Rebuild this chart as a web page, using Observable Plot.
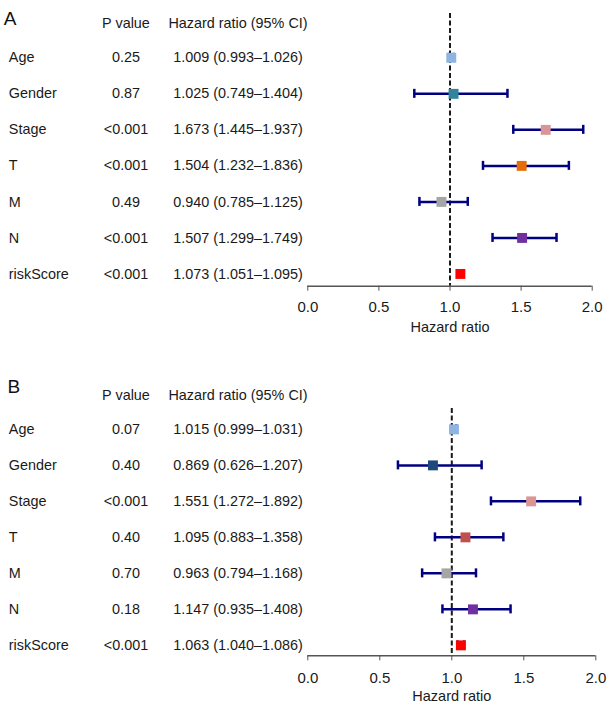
<!DOCTYPE html>
<html>
<head>
<meta charset="utf-8">
<script src="https://cdn.jsdelivr.net/npm/d3@7"></script>
<script src="https://cdn.jsdelivr.net/npm/@observablehq/plot@0.6"></script>
<style>
  html, body { margin: 0; padding: 0; background: #fff; }
  svg { display: block; }
</style>
</head>
<body>
<div id="chart"></div>
<script>
// ---- data ----
const labels = ["Age", "Gender", "Stage", "T", "M", "N", "riskScore"];
const xTicks = [0, 0.5, 1, 1.5, 2];

const pA = ["0.25", "0.87", "<0.001", "<0.001", "0.49", "<0.001", "<0.001"];
const hrA = [1.009, 1.025, 1.673, 1.504, 0.940, 1.507, 1.073];
const loA = [0.993, 0.749, 1.445, 1.232, 0.785, 1.299, 1.051];
const hiA = [1.026, 1.404, 1.937, 1.836, 1.125, 1.749, 1.095];
const colorsA = ["#8db4e2", "#31849b", "#da9694", "#e46c0a", "#a5a5a5", "#7030a0", "#ff0000"];

const pB = ["0.07", "0.40", "<0.001", "0.40", "0.70", "0.18", "<0.001"];
const hrB = [1.015, 0.869, 1.551, 1.095, 0.963, 1.147, 1.063];
const loB = [0.999, 0.626, 1.272, 0.883, 0.794, 0.935, 1.040];
const hiB = [1.031, 1.207, 1.892, 1.358, 1.168, 1.408, 1.086];
const colorsB = ["#8db4e2", "#1f497d", "#da9694", "#c0504d", "#a5a5a5", "#7030a0", "#ff0000"];

const headers = {p: "P value", hr: "Hazard ratio (95% CI)"};
const axisLabel = "Hazard ratio";

// ---- layout ----
const FONT = "'Liberation Sans', Arial, Helvetica, sans-serif";
const TXT = "#1a1a1a";
const ML = 307.3;
const colDx = {label: 8.3 - ML, p: 125.5 - ML, hr: 237.5 - ML};

function panel(cfg) {
  const f3 = d3.format(".3f");
  const rows = labels.map((l, k) => ({
    label: l, i: k + 1, p: cfg.p[k], hr: cfg.hr[k], lo: cfg.lo[k], hi: cfg.hi[k],
    color: cfg.colors[k],
    text: `${f3(cfg.hr[k])} (${f3(cfg.lo[k])}–${f3(cfg.hi[k])})`
  }));
  const cap = 0.125;
  return Plot.plot({
    width: 612,
    height: cfg.height,
    marginLeft: ML,
    marginRight: cfg.marginRight,
    marginTop: cfg.marginTop,
    marginBottom: cfg.marginBottom,
    style: {fontFamily: FONT, fontSize: "14.4px", color: TXT, background: "#fff", overflow: "visible"},
    x: {domain: [xTicks[0], xTicks[xTicks.length - 1]], axis: null},
    y: {type: "linear", domain: [cfg.yBottom, cfg.yTop], axis: null},
    color: {type: "identity"},
    marks: [
      // reference line at HR = 1
      Plot.ruleX([1], {stroke: "#1a1a1a", strokeWidth: 2, strokeDasharray: "5,2.5"}),
      // axis line
      Plot.ruleY([cfg.yBottom], {x1: xTicks[0], x2: xTicks[xTicks.length - 1], stroke: "#555", strokeWidth: 1.4}),
      Plot.axisX({ticks: xTicks, tickFormat: d3.format(".1f"), tickSize: 5, tickPadding: cfg.tickPadding,
                  stroke: "#555", fill: TXT, fontSize: 15, label: null}),
      Plot.text([axisLabel], {x: 1, frameAnchor: "bottom", lineAnchor: "middle", dy: cfg.labelDy, text: d => d,
                              fontSize: 14.5, fill: TXT}),
      // confidence intervals
      Plot.ruleY(rows, {y: "i", x1: "lo", x2: "hi", stroke: "#000080", strokeWidth: 2.5}),
      Plot.ruleX(rows, {x: "lo", y1: d => d.i - cap, y2: d => d.i + cap, stroke: "#000080", strokeWidth: 2.5}),
      Plot.ruleX(rows, {x: "hi", y1: d => d.i - cap, y2: d => d.i + cap, stroke: "#000080", strokeWidth: 2.5}),
      // point estimates
      Plot.dot(rows, {x: "hr", y: "i", symbol: "square", r: 5.6, fill: "color", stroke: null}),
      // table
      Plot.text(rows, {y: "i", text: "label", frameAnchor: "left", dx: colDx.label, textAnchor: "start", fill: TXT}),
      Plot.text(rows, {y: "i", text: "p", frameAnchor: "left", dx: colDx.p, textAnchor: "middle", fill: TXT}),
      Plot.text(rows, {y: "i", text: "text", frameAnchor: "left", dx: colDx.hr, textAnchor: "middle", fill: TXT}),
      Plot.text([headers.p], {y: cfg.headerI, text: d => d, frameAnchor: "left", dx: colDx.p, textAnchor: "middle", fill: TXT}),
      Plot.text([headers.hr], {y: cfg.headerI, text: d => d, frameAnchor: "left", dx: colDx.hr, textAnchor: "middle", fill: TXT}),
      Plot.text([cfg.letter], {y: cfg.letterI, text: d => d, frameAnchor: "left", dx: cfg.letterX - ML,
                               textAnchor: "start", fontSize: 19, fill: "#111"})
    ]
  });
}

const chart = document.getElementById("chart");
chart.appendChild(panel({
  letter: "A", p: pA, hr: hrA, lo: loA, hi: hiA, colors: colorsA,
  height: 353, marginTop: 13, marginBottom: 67.3, marginRight: 20.3,
  yTop: -0.23, yBottom: 7.34, headerI: 0.05, letterI: -0.07, letterX: 3.3,
  tickPadding: 10, labelDy: 41.5
}));
chart.appendChild(panel({
  letter: "B", p: pB, hr: hrB, lo: loB, hi: hiB, colors: colorsB,
  height: 354, marginTop: 55, marginBottom: 51.7, marginRight: 16.7,
  yTop: 0.42, yBottom: 7.29, headerI: 0.05, letterI: -0.19, letterX: 7,
  tickPadding: 11.5, labelDy: 40.5
}));
</script>
</body>
</html>
